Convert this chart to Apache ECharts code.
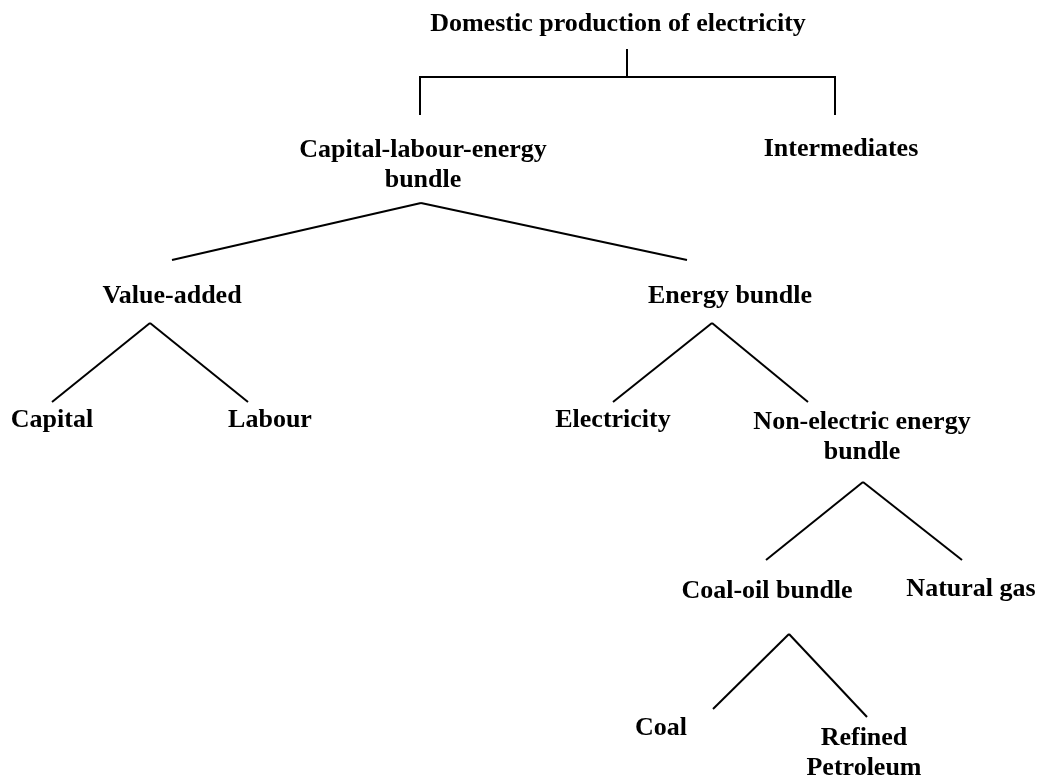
<!DOCTYPE html>
<html>
<head>
<meta charset="utf-8">
<script src="https://cdn.jsdelivr.net/npm/echarts@6/dist/echarts.min.js"></script>
<style>
  html, body { margin: 0; padding: 0; background: #fff; }
  #main { width: 1042px; height: 780px; }
</style>
</head>
<body>
<div id="main"></div>
<script>
// nodes of the nesting tree
var labels = ['Domestic production of electricity', 'Capital-labour-energy\nbundle', 'Intermediates',
  'Value-added', 'Energy bundle', 'Capital', 'Labour', 'Electricity', 'Non-electric energy\nbundle',
  'Coal-oil bundle', 'Natural gas', 'Coal', 'Refined\nPetroleum']
var parentIdx = [-1, 0, 0, 1, 1, 3, 3, 4, 4, 8, 8, 9, 9]
var labelX = [618, 423, 841, 172, 730, 52, 270, 613, 862, 767, 971, 661, 864]
var labelY = [24, 165, 149, 296, 296, 420, 420, 420, 437, 591, 589, 728, 753]
// where the line into a node ends / the lines out of a node start
var topX = [null, 420, 835, 172, 687, 52, 248, 613, 808, 766, 962, 713, 867]
var topY = [null, 115, 115, 260, 260, 402, 402, 402, 402, 560, 560, 709, 717]
var bottomX = [627, 421, null, 150, 712, null, null, null, 863, 789, null, null, null]
var bottomY = [49, 203, null, 323, 323, null, null, null, 482, 634, null, null, null]
var elbowY = 77

var edges = []
for (var i = 0; i < labels.length; i++) {
  var p = parentIdx[i]
  if (p < 0) continue
  if (p === 0) {
    // root uses a bracket connector
    edges.push({ coords: [[bottomX[p], bottomY[p]], [bottomX[p], elbowY], [topX[i], elbowY], [topX[i], topY[i]]] })
  } else {
    edges.push({ coords: [[bottomX[p], bottomY[p]], [topX[i], topY[i]]] })
  }
}

var points = labels.map(function (name, i) {
  return { name: name, value: [labelX[i], labelY[i]] }
})

var chart = echarts.init(document.getElementById('main'))
chart.setOption({
  backgroundColor: '#fff',
  animation: false,
  grid: { left: 0, right: 0, top: 0, bottom: 0 },
  xAxis: { type: 'value', min: 0, max: 1042, show: false },
  yAxis: { type: 'value', min: 0, max: 780, inverse: true, show: false },
  series: [
    {
      type: 'lines',
      coordinateSystem: 'cartesian2d',
      polyline: true,
      lineStyle: { color: '#000', width: 2, opacity: 1 },
      data: edges
    },
    {
      type: 'scatter',
      symbolSize: 0,
      itemStyle: { opacity: 1 },
      data: points,
      label: {
        show: true,
        position: 'inside',
        formatter: '{b}',
        fontFamily: 'Liberation Serif',
        fontWeight: 'bold',
        fontSize: 26,
        lineHeight: 30,
        color: '#000',
        opacity: 1,
        textBorderWidth: 0,
        align: 'center',
        verticalAlign: 'middle'
      }
    }
  ]
})
</script>
</body>
</html>
